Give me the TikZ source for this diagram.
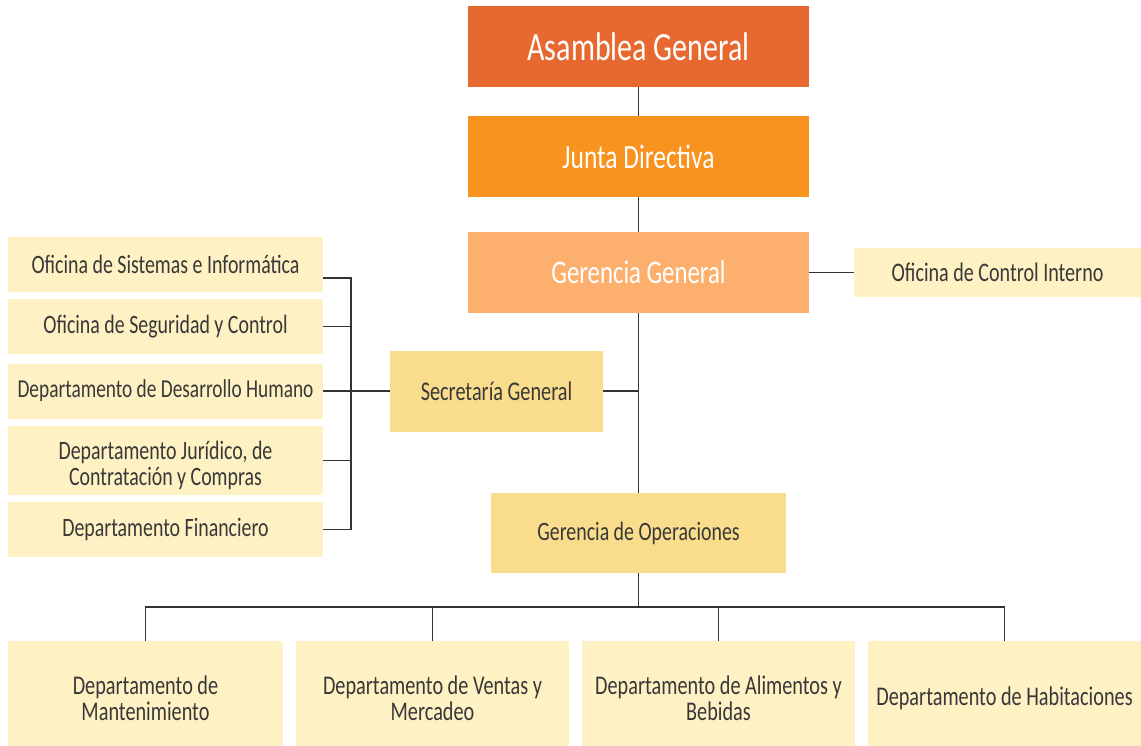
\documentclass[tikz,border=0pt]{standalone}
\usepackage{fontspec}
\setmainfont{Carlito}[FakeStretch=0.75]
\definecolor{cAsam}{HTML}{E8692F}
\definecolor{cJunta}{HTML}{F7931E}
\definecolor{cGer}{HTML}{FDB06E}
\definecolor{cMid}{HTML}{FADD8C}
\definecolor{cLight}{HTML}{FEF1C3}
\definecolor{cText}{HTML}{383838}
\definecolor{cLine}{HTML}{333333}
\tikzset{
  box/.style={rectangle, inner sep=0pt, align=center, text=cText},
  orgline/.style={draw=cLine, line width=1.3pt},
  lefttxt/.style={font=\fontsize{26.5}{26}\selectfont},
  bottxt/.style={font=\fontsize{27}{26}\selectfont},
  twoline/.style={align=center, text=cText, inner sep=0pt, yshift=-5pt},
}
\begin{document}
\begin{tikzpicture}[x=1pt,y=-1pt]
\useasboundingbox (0,0) rectangle (1141,746);
% top chain
\node[box, fill=cAsam, text=white, minimum width=341, minimum height=81, font=\fontsize{40}{40}\selectfont] (asam) at (638.5,46.5) {Asamblea General};
\node[box, fill=cJunta, text=white, minimum width=341, minimum height=81, font=\fontsize{34}{34}\selectfont] (junta) at (638.5,156.5) {Junta Directiva};
\node[box, fill=cGer, text=white, minimum width=341, minimum height=81, font=\fontsize{33}{33}\selectfont] (ger) at (638.5,272.5) {Gerencia General};
\node[box, fill=cLight, minimum width=287, minimum height=48, font=\fontsize{26.8}{26}\selectfont] (oci) at (997.5,272.5) {Oficina de Control Interno};
% left column
\node[box, fill=cLight, minimum width=315, minimum height=55, lefttxt] (sis) at (165.5,264.5) {Oficina de Sistemas e Informática};
\node[box, fill=cLight, minimum width=315, minimum height=55, lefttxt] (seg) at (165.5,326.5) {Oficina de Seguridad y Control};
\node[box, fill=cLight, minimum width=315, minimum height=55, font=\fontsize{25.8}{26}\selectfont] (dh) at (165.5,391) {Departamento de Desarrollo Humano};
\node[box, fill=cLight, minimum width=315, minimum height=69,
  label={[twoline, lefttxt]center:{Departamento Jurídico, de\\Contratación y Compras}}] (jur) at (165.5,460.5) {};
\node[box, fill=cLight, minimum width=315, minimum height=55, lefttxt] (fin) at (165.5,529.5) {Departamento Financiero};
% middle
\node[box, fill=cMid, minimum width=213, minimum height=81, font=\fontsize{27}{27}\selectfont] (sec) at (496.5,391) {Secretaría General};
\node[box, fill=cMid, minimum width=295, minimum height=80, font=\fontsize{26.5}{26}\selectfont] (ope) at (638.5,533) {Gerencia de Operaciones};
% bottom row
\node[box, fill=cLight, minimum width=275, minimum height=105,
  label={[twoline, bottxt]center:{Departamento de\\Mantenimiento}}] (man) at (145.5,693.5) {};
\node[box, fill=cLight, minimum width=273, minimum height=105,
  label={[twoline, bottxt]center:{Departamento de Ventas y\\Mercadeo}}] (ven) at (432.5,693.5) {};
\node[box, fill=cLight, minimum width=273, minimum height=105,
  label={[twoline, bottxt]center:{Departamento de Alimentos y\\Bebidas}}] (ali) at (718.5,693.5) {};
\node[box, fill=cLight, minimum width=273, minimum height=105,
  label={[twoline, bottxt]center:{Departamento de Habitaciones}}] (hab) at (1004.5,693.5) {};
% coordinates
\coordinate (brk) at (351,391);
\coordinate (bus) at (638.5,607);
% connectors
\draw[orgline] (asam) -- (junta);
\draw[orgline] (junta) -- (ger);
\draw[orgline] (ger.east) -- (oci.west);
\draw[orgline] (ger.south) -- (ope.north);
\draw[orgline] (sec.east) -- (sec.east -| ger.south);
\draw[orgline] ([yshift=-13.5pt]sis.east) -| (brk |- fin.east) -- (fin.east);
\draw[orgline] (seg.east) -- (brk |- seg.east);
\draw[orgline] (dh.east) -- (sec.west);
\draw[orgline] (jur.east) -- (brk |- jur.east);
\draw[orgline] (ope.south) -- (bus);
\draw[orgline] (man.north) -- (man.north |- bus) -- (hab.north |- bus) -- (hab.north);
\draw[orgline] (ven.north) -- (ven.north |- bus);
\draw[orgline] (ali.north) -- (ali.north |- bus);
\end{tikzpicture}
\end{document}
